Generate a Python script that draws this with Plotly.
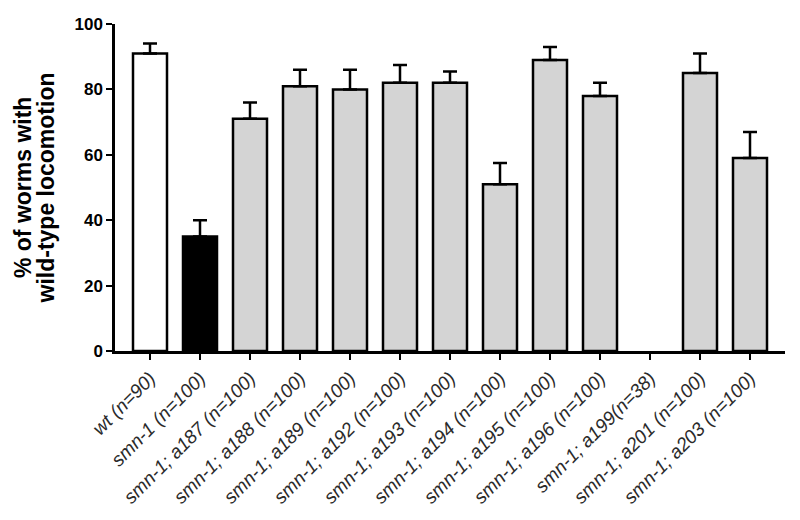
import plotly.graph_objects as go

# ---- data ----
categories = ["wt", "smn-1", "smn-1; a187", "smn-1; a188", "smn-1; a189", "smn-1; a192",
              "smn-1; a193", "smn-1; a194", "smn-1; a195", "smn-1; a196", "smn-1; a199",
              "smn-1; a201", "smn-1; a203"]
n_values = ["90", "100", "100", "100", "100", "100", "100", "100", "100", "100", "38", "100", "100"]
percent_wt_locomotion = [91, 35, 71, 81, 80, 82, 82, 51, 89, 78, None, 85, 59]
sem_upper = [3, 5, 5, 5, 6, 5.5, 3.5, 6.5, 4, 4, None, 6, 8]

tick_labels = []
for c, n in zip(categories, n_values):
    sep = "" if c == "smn-1; a199" else " "
    tick_labels.append(f"<i>{c}{sep}(n={n})</i>")

bar_colors = ["#ffffff", "#000000"] + ["#d4d4d4"] * (len(categories) - 2)

FONT = "Arial, Liberation Sans, Helvetica, sans-serif"

fig = go.Figure()
fig.add_trace(go.Bar(
    x=categories,
    y=percent_wt_locomotion,
    width=0.68,
    marker=dict(color=bar_colors, line=dict(color="#000000", width=2.5)),
    error_y=dict(type="data", symmetric=False, array=sem_upper,
                 arrayminus=[0] * len(categories),
                 color="#000000", thickness=2.5, width=7),
    showlegend=False,
))

fig.update_layout(
    width=800, height=520,
    margin=dict(l=115, r=15, t=24, b=169),
    paper_bgcolor="white", plot_bgcolor="white",
    font=dict(family=FONT, color="#000000"),
    xaxis=dict(
        type="category",
        range=[-0.7, 12.7],
        tickmode="array", tickvals=categories, ticktext=tick_labels,
        tickangle=-45,
        tickfont=dict(size=19, color="#2a2a2a"),
        ticks="outside", ticklen=6, tickwidth=2, tickcolor="#000000",
        showline=True, linewidth=2.5, linecolor="#000000",
        showgrid=False, zeroline=False, automargin=False,
    ),
    yaxis=dict(
        range=[0, 100],
        tickvals=[0, 20, 40, 60, 80, 100],
        tickfont=dict(size=17, color="#000000", weight="bold"),
        ticks="outside", ticklen=6, tickwidth=2, tickcolor="#000000",
        showline=True, linewidth=2.5, linecolor="#000000",
        showgrid=False, zeroline=False, automargin=False,
    ),
    annotations=[
        dict(text="<b>% of worms with</b>", textangle=-90, xref="paper", yref="paper",
             x=-0.138, y=0.5, xanchor="center", yanchor="middle", showarrow=False,
             font=dict(size=23, color="#000000")),
        dict(text="<b>wild-type locomotion</b>", textangle=-90, xref="paper", yref="paper",
             x=-0.103, y=0.5, xanchor="center", yanchor="middle", showarrow=False,
             font=dict(size=23, color="#000000")),
    ],
)

fig.write_html("out.html", config={"displayModeBar": False},
               post_script="document.body.style.margin='0';")
